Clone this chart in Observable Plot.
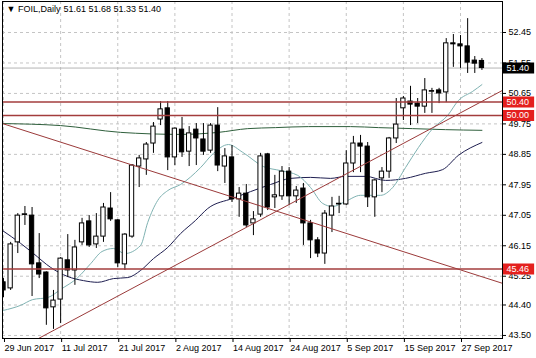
<!DOCTYPE html>
<html><head><meta charset="utf-8">
<script src="https://cdn.jsdelivr.net/npm/d3@7"></script>
<script src="https://cdn.jsdelivr.net/npm/@observablehq/plot@0.6"></script>
<style>html,body{margin:0;padding:0;background:#fff}svg{display:block}</style>
</head><body><div id="chart"></div>
<script>
// ---- data ----
const symbol = "FOIL,Daily";
const dateTickIdx = [0, 8, 16, 24, 32, 40, 48, 56, 64];
const dateLabels = ["29 Jun 2017","11 Jul 2017","21 Jul 2017","2 Aug 2017","14 Aug 2017","24 Aug 2017","5 Sep 2017","15 Sep 2017","27 Sep 2017"];
const priceTicks = [43.50, 44.40, 45.25, 46.15, 47.05, 47.95, 48.85, 49.75, 50.65, 51.55, 52.45];
const opens  = [45.07,44.89,46.25,47.06,47.04,45.63,45.36,44.33,44.56,45.72,45.42,46.25,46.87,46.19,46.42,47.25,46.90,45.60,46.42,48.49,48.70,49.17,49.88,50.21,48.76,49.58,48.93,49.58,49.29,48.96,49.70,48.49,48.76,47.52,47.69,46.81,47.07,48.85,47.58,47.61,48.34,47.61,47.84,46.81,46.31,45.92,47.04,47.37,47.37,48.58,49.17,49.08,47.58,48.14,48.34,49.32,50.21,50.41,50.35,50.26,50.70,50.74,50.68,52.13,52.10,52.04,51.62,51.61];
const highs  = [45.18,46.25,47.10,47.31,47.28,46.51,45.38,44.83,45.80,46.48,46.31,46.96,47.04,47.10,47.40,47.72,46.92,46.51,48.55,48.82,49.20,49.79,50.41,50.41,49.63,49.94,49.67,49.76,49.76,49.76,50.23,49.02,49.11,47.87,47.96,47.16,48.88,48.88,48.23,48.49,48.46,47.90,47.99,46.90,46.39,47.19,47.58,47.61,48.96,49.38,49.41,49.20,48.11,48.46,49.35,50.50,50.56,50.86,50.50,51.09,50.80,50.80,52.27,52.39,52.36,52.86,51.74,51.68];
const lows   = [44.62,44.83,45.92,46.75,44.65,45.18,43.80,43.68,43.85,45.21,44.98,46.16,46.10,46.07,46.25,46.87,45.51,45.42,46.37,47.87,48.23,48.88,49.70,48.37,48.52,48.76,48.49,48.52,48.82,48.88,48.34,47.99,47.43,46.99,46.69,46.45,46.99,47.19,47.25,47.49,47.34,47.40,46.16,45.77,45.80,45.60,46.54,47.10,47.34,48.31,48.31,47.28,46.99,47.72,48.14,49.17,49.85,49.70,49.76,50.06,50.06,50.35,50.38,51.42,51.39,51.24,51.24,51.33];
const closes = [44.83,46.19,47.04,47.08,45.60,45.30,44.30,44.53,45.77,45.42,46.10,46.81,46.16,46.42,47.28,46.93,45.63,46.48,48.52,48.73,49.14,49.67,50.18,48.76,49.61,48.91,49.47,49.32,48.93,49.70,48.52,48.79,47.52,47.69,46.75,46.93,48.79,47.28,47.64,48.34,47.61,47.78,46.81,46.31,45.92,47.10,47.31,47.39,48.58,49.17,49.08,47.58,48.08,48.34,49.32,49.73,50.50,50.32,50.26,50.74,50.72,50.65,52.13,52.10,52.04,51.56,51.53,51.40];
// moving averages: [bar index, price]
const fastMA = [[0,44.24],[2.4,44.39],[4.1,44.56],[6.2,44.62],[8,44.86],[10.4,45.21],[12.2,45.62],[13.8,45.98],[15.4,46.07],[17,45.92],[19.2,46.16],[20.2,46.84],[21.6,47.49],[23,47.78],[24.8,47.96],[27.6,48.46],[29.4,48.88],[31.5,49.14],[33.5,48.91],[36.4,48.49],[38.8,48.37],[41.2,48.23],[43,47.87],[44.7,47.40],[46.1,47.31],[47.9,47.46],[50,47.64],[52.8,47.64],[54.5,47.87],[56.3,48.46],[58.1,49.05],[60.1,49.61],[62.2,50.00],[63.7,50.44],[65.7,50.71],[67,50.91]];
const midMA = [[-0.14,46.60],[2.4,46.22],[4.2,45.92],[6.6,45.51],[9,45.24],[11.2,45.12],[13.2,45.07],[15.4,45.18],[17.4,45.21],[19.2,45.42],[21,45.77],[23,46.10],[24.8,46.51],[26.9,46.90],[28.6,47.25],[32.1,47.55],[34.6,47.75],[37.4,47.96],[40.2,48.14],[43,48.17],[45.8,48.14],[47.9,48.20],[50.7,48.20],[53.5,48.08],[56.3,48.14],[59.1,48.29],[61.5,48.40],[63.7,48.82],[67,49.20]];
const slowMA = [[-0.14,49.76],[8,49.70],[16.4,49.50],[24.8,49.44],[30.1,49.50],[34.2,49.61],[38.1,49.64],[42.7,49.67],[48.6,49.67],[52.5,49.64],[57.3,49.61],[61.9,49.58],[67,49.56]];
const levelLines = [50.40, 50.00, 45.46];
const lastPrice = 51.40;
const trendDown = [[-0.14,49.76],[69.88,45.04]];
const trendUp = [[4.9,43.41],[69.88,50.74]];

// ---- build ----
const candles = opens.map((o, i) => ({i, o, h: highs[i], l: lows[i], c: closes[i]}));
const last = candles[candles.length - 1];
const ohlcText = [last.o, last.h, last.l, last.c].map(v => v.toFixed(2)).join(" ");
const boxes = [lastPrice, ...levelLines];
const X0 = -0.14, X1 = 69.88;
const P = d => d[0], V = d => d[1];

const chart = Plot.plot({
  width: 536, height: 358,
  marginLeft: 2, marginRight: 34, marginTop: 1, marginBottom: 20,
  style: {fontFamily: "'Liberation Sans', Arial, sans-serif", fontSize: "9px", color: "#000", background: "#fff", overflow: "visible"},
  x: {type: "linear", domain: [X0, X1], label: null},
  y: {type: "linear", domain: [43.41, 53.366], label: null},
  marks: [
    Plot.gridX(dateTickIdx, {stroke: "#c4c4c4", strokeOpacity: 1, strokeDasharray: "3,3"}),
    Plot.gridY(priceTicks, {stroke: "#c4c4c4", strokeOpacity: 1, strokeDasharray: "3,3"}),
    Plot.ruleY([lastPrice], {stroke: "#b4b4b4"}),
    Plot.line(slowMA, {x: P, y: V, stroke: "#2f5f3c", strokeWidth: 1, curve: "monotone-x", clip: true}),
    Plot.line(midMA, {x: P, y: V, stroke: "#1e1e50", strokeWidth: 1, curve: "monotone-x", clip: true}),
    Plot.line(fastMA, {x: P, y: V, stroke: "#7fb2b2", strokeWidth: 1, curve: "monotone-x", clip: true}),
    Plot.ruleX(candles, {x: "i", y1: "l", y2: "h", stroke: "#000", strokeWidth: 1, clip: true}),
    Plot.rect(candles, {x1: d => d.i - 0.3, x2: d => d.i + 0.3, y1: "o", y2: "c", fill: d => d.c >= d.o ? "#fff" : "#000", stroke: "#000", strokeWidth: 1, clip: true}),
    Plot.line(trendDown, {x: P, y: V, stroke: "#9b3a3a", strokeWidth: 1, clip: true}),
    Plot.line(trendUp, {x: P, y: V, stroke: "#9b3a3a", strokeWidth: 1, clip: true}),
    Plot.ruleY(levelLines, {stroke: "#a33c3c", strokeWidth: 1.5}),
    Plot.frame({stroke: "#000"}),
    Plot.axisY(priceTicks, {anchor: "right", tickSize: 3, tickPadding: 3, tickFormat: d => d.toFixed(2), fill: "#000", stroke: "#000", label: null}),
    Plot.axisX(dateTickIdx, {anchor: "bottom", tickSize: 4, tickPadding: 2, tickFormat: d => dateLabels[dateTickIdx.indexOf(d)], textAnchor: "start", dx: 1, fill: "#000", stroke: "#000", label: null}),
    Plot.ruleY(boxes, {y: d => d, x1: X1 + 0.14, x2: X1 + 4.5, stroke: d => d === lastPrice ? "#000" : "#e4201e", strokeWidth: 11}),
    Plot.text(boxes, {y: d => d, x: X1 + 0.55, text: d => d.toFixed(2), textAnchor: "start", fill: "#fff", fontSize: 9}),
    Plot.text([symbol], {frameAnchor: "top-left", dx: 4, dy: 4, text: d => "\u25BC " + d, fill: "#000"}),
    Plot.text([ohlcText], {frameAnchor: "top-left", dx: 61, dy: 4, text: d => d, fill: "#000"})
  ]
});
document.getElementById("chart").appendChild(chart);
</script>
</body></html>
